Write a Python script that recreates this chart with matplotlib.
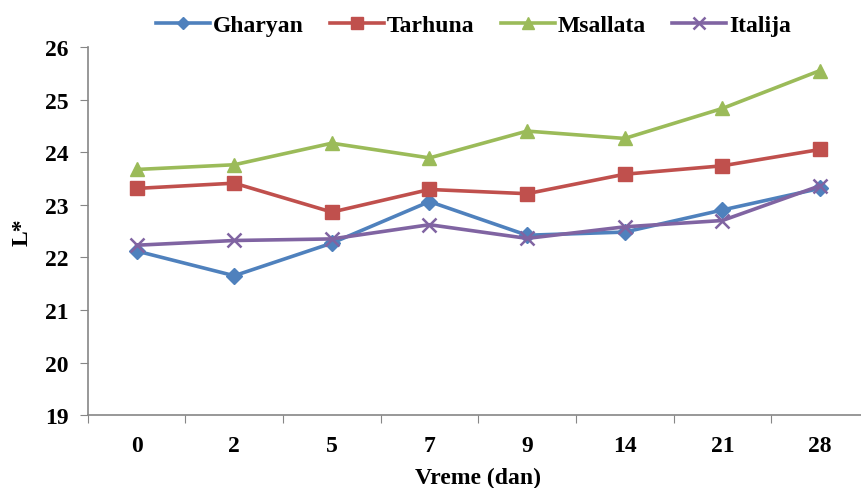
import matplotlib
matplotlib.use("Agg")
import matplotlib.pyplot as plt

# podaci (L* po danima)
days = ["0", "2", "5", "7", "9", "14", "21", "28"]
gharyan = [22.12, 21.65, 22.27, 23.06, 22.42, 22.48, 22.90, 23.31]
tarhuna = [23.31, 23.41, 22.86, 23.29, 23.21, 23.58, 23.74, 24.05]
msallata = [23.67, 23.76, 24.17, 23.89, 24.40, 24.26, 24.83, 25.55]
italija = [22.23, 22.32, 22.35, 22.62, 22.36, 22.58, 22.70, 23.36]

plt.rcParams["font.family"] = ["Liberation Serif", "DejaVu Serif"]
plt.rcParams["font.weight"] = "bold"
fs = 17

fig = plt.figure(figsize=(8.61, 4.89), dpi=100)
ax = fig.add_axes([0.102, 0.149, 0.907, 0.753])

x = range(len(days))
ax.plot(x, gharyan, color="#4F81BD", lw=2.6, marker="D", ms=8, label="Gharyan")
ax.plot(x, tarhuna, color="#C0504D", lw=2.6, marker="s", ms=10, label="Tarhuna")
ax.plot(x, msallata, color="#9BBB59", lw=2.6, marker="^", ms=10, label="Msallata")
ax.plot(x, italija, color="#8064A2", lw=2.6, marker="x", ms=10, mew=1.8, label="Italija")

ax.set_xlim(-0.5, len(days) - 0.5)
ax.set_ylim(19, 26)
ax.set_xticks([i + 0.5 for i in range(-1, len(days))], minor=False)
ax.set_xticklabels([])
ax.set_xticks(list(x), minor=True)
ax.set_xticklabels(days, minor=True, fontsize=fs, fontweight="bold")
ax.tick_params(axis="x", which="minor", length=0, pad=14)
ax.tick_params(axis="x", which="major", length=6, color="#868686", direction="out")
ax.tick_params(axis="y", length=6, color="#868686", labelsize=fs, pad=8)
for lbl in ax.get_yticklabels():
    lbl.set_fontweight("bold")

for s in ["top", "right"]:
    ax.spines[s].set_visible(False)
for s in ["left", "bottom"]:
    ax.spines[s].set_color("#868686")
    ax.spines[s].set_linewidth(1.2)

ax.set_xlabel("Vreme (dan)", fontsize=fs, fontweight="bold", labelpad=8)
ax.set_ylabel("L*", fontsize=fs, fontweight="bold", labelpad=9)

leg = fig.legend(loc="upper center", bbox_to_anchor=(0.55, 1.012), ncol=4, frameon=False,
                 fontsize=fs, handlelength=2.3, columnspacing=1.1, handletextpad=0.12,
                 markerscale=0.8)
for t in leg.get_texts():
    t.set_fontweight("bold")

fig.savefig("out.png", dpi=100)
